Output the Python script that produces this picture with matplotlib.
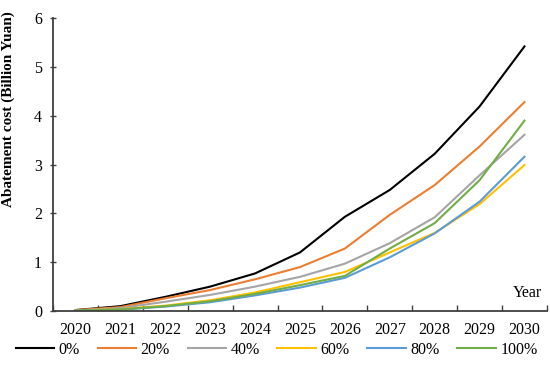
import numpy as np
import matplotlib.pyplot as plt

# --- data ---
years = ['2020', '2021', '2022', '2023', '2024', '2025', '2026', '2027', '2028', '2029', '2030']
labels = ['0%', '20%', '40%', '60%', '80%', '100%']
colors = ['#000000', '#ED7D31', '#A5A5A5', '#FFC000', '#5B9BD5', '#70AD47']

s0 = [0.02, 0.10, 0.29, 0.50, 0.77, 1.20, 1.93, 2.48, 3.22, 4.19, 5.42]
s20 = [0.02, 0.08, 0.26, 0.43, 0.65, 0.90, 1.28, 1.97, 2.58, 3.37, 4.28]
s40 = [0.01, 0.06, 0.19, 0.33, 0.50, 0.70, 0.97, 1.39, 1.92, 2.78, 3.61]
s60 = [0.01, 0.04, 0.11, 0.22, 0.38, 0.59, 0.80, 1.20, 1.60, 2.19, 2.99]
s80 = [0.01, 0.03, 0.09, 0.18, 0.32, 0.48, 0.68, 1.10, 1.59, 2.24, 3.16]
s100 = [0.01, 0.03, 0.10, 0.20, 0.35, 0.53, 0.72, 1.28, 1.80, 2.68, 3.90]
series = [s0, s20, s40, s60, s80, s100]

plt.rcParams['font.family'] = ['Liberation Serif', 'DejaVu Serif']

fig = plt.figure(figsize=(5.5, 3.77), dpi=100)
ax = fig.add_axes([0.0964, 0.175, 0.898, 0.777])

x = np.arange(len(years))
for vals, lab, c in zip(series, labels, colors):
    ax.plot(x, vals, color=c, lw=1.5, label=lab)

ax.set_xlim(-0.5, len(years) - 0.5)
ax.set_ylim(0, 6)
ax.set_xticks(x)
ax.set_xticklabels(years, fontsize=11.5)
ax.set_xticks(np.arange(-0.5, len(years)), minor=True)
ax.tick_params(axis='x', which='major', length=0, pad=8)
ax.tick_params(axis='x', which='minor', direction='in', length=4, color='#404040', width=1)
ax.tick_params(axis='y', direction='inout', length=4, color='#404040', width=1, labelsize=11.5, pad=6)
ax.set_yticks(range(0, 7))

for side in ['top', 'right']:
    ax.spines[side].set_visible(False)
for side in ['left', 'bottom']:
    ax.spines[side].set_color('#404040')
    ax.spines[side].set_linewidth(1.3)

# y label sits high, like the original
ax.set_ylabel('Abatement cost (Billion Yuan)', fontsize=11, fontweight='bold')
ax.yaxis.set_label_coords(-0.077, 0.69)
ax.text(0.99, 0.035, 'Year', transform=ax.transAxes, ha='right', va='bottom', fontsize=11.5)

handles, labs = ax.get_legend_handles_labels()
fig.legend(handles, labs, loc='center', bbox_to_anchor=(0.503, 0.072), ncol=6, frameon=False,
           fontsize=11.5, handlelength=2.4, columnspacing=1.1, handletextpad=0.3,
           borderaxespad=0, borderpad=0)

fig.savefig('out.png', dpi=100)
